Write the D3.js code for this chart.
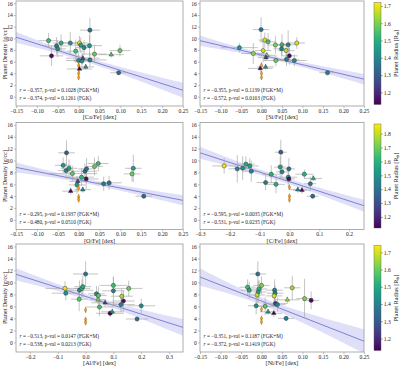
<!DOCTYPE html>
<html><head><meta charset="utf-8">
<script src="https://cdn.jsdelivr.net/npm/d3@7"></script>
<style>
body{margin:0;background:#fff}
svg{display:block}
text{font-family:"Liberation Serif","Times New Roman",serif;fill:#222}
</style>
</head><body><svg id="c" width="400" height="367"></svg>
<script>
// ---- data: [x, xErr, density, densityErr, radius, marker] ----
const caPts = [
[0.027,0.024,11.4,2.1,1.35,'o'],[-0.072,0.024,9.6,1.3,1.53,'o'],[-0.065,0.028,7.0,1.7,1.15,'o'],
[-0.053,0.03,8.7,1.5,1.38,'o'],[-0.05,0.02,8.2,1.4,1.40,'o'],[-0.042,0.02,9.2,1.5,1.50,'o'],
[-0.02,0.018,9.2,1.9,1.43,'o'],[-0.007,0.02,7.8,2.0,1.55,'o'],[0.002,0.02,9.2,1.2,1.70,'o'],
[0.005,0.025,8.85,1.3,1.47,'o'],[0.013,0.02,8.4,1.3,1.40,'o'],[0.026,0.03,8.75,1.8,1.45,'o'],
[0.038,0.03,7.3,1.5,1.58,'o'],[0.078,0.03,7.2,0.5,1.55,'t'],[0.099,0.025,7.9,1.0,1.58,'o'],
[0.096,0.02,4.1,0.4,1.33,'o'],[0.0,0.03,6.2,1.4,1.42,'o'],[0.008,0.02,6.1,1.5,1.42,'o'],
[0.01,0.04,6.6,0.6,1.25,'t'],[0.027,0.04,6.3,1.2,1.38,'o'],[0.017,0.02,5.1,0.5,1.45,'t'],
[0.002,0.03,4.75,0.6,1.13,'t'],[0,0,5.4,0.4,null,'d'],[0,0,4.0,0.3,null,'d'],[0,0,3.3,0.3,null,'d']
];
const siPts = [
[-0.001,0.02,11.5,2.1,1.35,'o'],[0.008,0.015,9.7,1.3,1.68,'o'],[0.016,0.02,9.4,1.5,1.55,'o'],
[-0.054,0.045,8.4,0.8,1.45,'o'],[-0.02,0.03,7.4,1.8,1.62,'o'],[0.004,0.02,7.9,2.0,1.68,'o'],
[0.034,0.02,8.85,1.5,1.60,'o'],[0.05,0.015,8.9,1.8,1.52,'o'],[0.049,0.02,8.2,1.3,1.38,'o'],
[0.065,0.02,8.9,2.5,1.38,'o'],[0.06,0.02,7.9,1.2,1.66,'o'],[0.086,0.02,9.2,1.0,1.68,'o'],
[0.068,0.02,7.0,1.5,1.15,'o'],[0.013,0.02,7.1,0.5,1.60,'t'],[0.035,0.03,6.2,1.0,1.58,'o'],
[0.061,0.03,6.4,1.2,1.38,'o'],[0.08,0.03,6.2,1.0,1.42,'o'],[0.011,0.02,6.7,0.6,1.25,'t'],
[0.01,0.02,5.1,0.5,1.45,'t'],[-0.003,0.03,4.85,0.6,1.13,'t'],[0.161,0.02,4.1,0.4,1.38,'o'],
[0,0,5.4,0.4,null,'d'],[0,0,4.0,0.3,null,'d'],[0,0,3.3,0.3,null,'d']
];
const oPts = [
[-0.029,0.02,11.3,2.1,1.35,'o'],[-0.037,0.02,9.2,1.3,1.52,'o'],[-0.03,0.02,8.3,1.4,1.45,'o'],
[-0.023,0.02,8.7,1.5,1.55,'o'],[-0.015,0.06,7.8,1.3,1.68,'o'],[0.015,0.03,8.2,1.3,1.40,'o'],
[0.019,0.02,8.6,1.8,1.40,'o'],[0.038,0.02,9.0,1.5,1.70,'o'],[0.047,0.025,9.5,1.3,1.62,'o'],
[0.131,0.02,8.7,2.3,1.55,'o'],[0.128,0.02,7.75,1.3,1.70,'o'],[0.007,0.03,7.2,1.5,1.62,'o'],
[0.018,0.03,6.9,1.7,1.15,'o'],[-0.002,0.02,6.5,0.6,1.25,'t'],[-0.004,0.02,5.9,1.5,1.55,'o'],
[0.01,0.02,5.1,0.5,1.45,'t'],[-0.019,0.02,4.85,0.6,1.13,'t'],[0.06,0.02,6.1,1.2,1.42,'o'],
[0.073,0.03,6.25,1.2,1.40,'o'],[0.156,0.02,4.0,0.4,1.38,'o'],
[0,0,5.4,0.4,null,'d'],[0,0,3.9,0.3,null,'d'],[0,0,3.4,0.3,null,'d']
];
const cPts = [
[-0.219,0.04,9.1,1.3,1.85,'o'],[-0.175,0.03,8.6,2.3,1.45,'o'],[-0.157,0.03,8.7,2.0,1.50,'o'],
[-0.146,0.03,9.4,1.3,1.58,'o'],[-0.133,0.03,9.1,1.3,1.55,'o'],[-0.128,0.03,8.2,1.8,1.45,'o'],
[-0.08,0.03,6.3,1.3,1.42,'o'],[-0.061,0.03,7.7,1.5,1.60,'o'],[-0.045,0.03,6.0,1.5,1.58,'o'],
[-0.029,0.02,11.4,2.1,1.35,'o'],[-0.031,0.02,8.9,1.8,1.55,'o'],[-0.025,0.02,8.1,1.3,1.45,'o'],
[-0.002,0.02,8.6,1.8,1.40,'o'],[-0.004,0.03,7.2,1.5,1.55,'o'],[-0.002,0.02,6.9,0.6,1.15,'o'],
[0.028,0.03,5.1,0.5,1.45,'t'],[0.042,0.03,5.0,0.6,1.13,'t'],[0.05,0.03,7.7,0.8,1.60,'o'],
[0.08,0.03,7.0,0.5,1.58,'t'],[0.07,0.02,6.1,1.2,1.42,'o'],[0.078,0.02,4.0,0.4,1.38,'o'],
[0,0,5.5,0.4,null,'d'],[0,0,4.0,0.3,null,'d'],[0,0,3.4,0.3,null,'d']
];
const alPts = [
[-0.074,0.07,9.0,1.2,1.72,'o'],[-0.071,0.05,8.2,1.2,1.45,'o'],[-0.022,0.05,8.7,1.6,1.42,'o'],
[-0.013,0.03,9.0,1.5,1.55,'o'],[-0.01,0.03,9.3,1.8,1.50,'o'],[-0.023,0.03,7.2,2.0,1.58,'o'],
[0.0,0.045,11.4,2.1,1.35,'o'],[0.039,0.03,8.1,1.3,1.40,'o'],[0.046,0.03,7.8,1.5,1.58,'o'],
[0.045,0.03,7.1,0.5,1.62,'t'],[0.05,0.05,5.9,1.5,1.55,'o'],[0.07,0.05,6.6,0.6,1.25,'t'],
[0.088,0.05,4.85,0.6,1.13,'o'],[0.096,0.04,5.1,0.5,1.45,'t'],[0.1,0.05,9.5,1.5,1.55,'o'],
[0.1,0.04,8.6,2.3,1.40,'o'],[0.13,0.04,7.7,1.3,1.66,'o'],[0.136,0.04,6.9,1.7,1.15,'o'],
[0.155,0.05,9.0,1.3,1.60,'o'],[0.127,0.05,6.3,1.2,1.38,'o'],[0.2,0.05,6.1,1.2,1.42,'o'],
[0.185,0.04,3.9,0.4,1.35,'o'],
[0,0,5.4,0.4,null,'d'],[0,0,3.8,0.3,null,'d'],[0,0,3.3,0.3,null,'d']
];
const niPts = [
[-0.009,0.02,11.4,2.1,1.35,'o'],[-0.034,0.02,9.2,1.3,1.55,'o'],[-0.03,0.02,8.7,1.4,1.50,'o'],
[0.0,0.02,9.5,1.5,1.62,'o'],[-0.006,0.02,8.9,1.5,1.52,'o'],[-0.008,0.02,8.4,1.8,1.48,'o'],
[-0.011,0.02,7.9,1.4,1.68,'o'],[-0.013,0.02,6.1,1.4,1.42,'o'],[0.009,0.025,6.0,1.5,1.58,'o'],
[0.016,0.02,5.1,0.5,1.45,'t'],[0.03,0.02,4.85,0.6,1.13,'t'],[0.032,0.02,8.7,1.8,1.40,'o'],
[0.033,0.02,8.2,1.3,1.40,'o'],[0.031,0.02,7.75,1.3,1.70,'o'],[0.034,0.03,6.5,0.6,1.25,'o'],
[0.039,0.02,6.3,1.2,1.40,'o'],[0.063,0.03,7.1,0.5,1.65,'t'],[0.075,0.02,9.1,2.0,1.65,'o'],
[0.06,0.02,4.0,0.4,1.38,'o'],[0.105,0.02,7.3,3.3,1.62,'o'],[0.121,0.02,7.0,1.5,1.15,'o'],
[0,0,5.5,0.4,null,'d'],[0,0,4.0,0.3,null,'d'],[0,0,3.4,0.3,null,'d']
];

// regression line (value at left & right edge) and confidence band half-widths
const fitLeft  = [10.2, 9.6, 8.85, 11.3, 11.35, 10.9];
const fitRight = [1.1, 3.0, 3.3, 2.4, 2.5, 0.2];
const bandLeft = [0.95, 0.9, 0.85, 1.0, 1.0, 1.45];
const bandMidX = [0.02, 0.02, 0.02, -0.05, 0.05, 0.02];
const bandMid  = [0.4, 0.35, 0.35, 0.4, 0.45, 0.6];
const bandRight= [1.3, 0.9, 0.85, 1.0, 1.4, 2.0];

const rText = [["−0.357","−0.374"],["−0.355","−0.572"],["−0.295","−0.480"],["−0.595","−0.531"],["−0.513","−0.538"],["−0.351","−0.372"]];
const pText = [["0.1028","0.1261"],["0.1139","0.0163"],["0.1937","0.0510"],["0.0035","0.0235"],["0.0147","0.0213"],["0.1187","0.1419"]];

const xLabels = ["[Ca/Fe] [dex]","[Si/Fe] [dex]","[O/Fe] [dex]","[C/Fe] [dex]","[Al/Fe] [dex]","[Ni/Fe] [dex]"];
const xTicksA = [-0.15,-0.10,-0.05,0,0.05,0.10,0.15,0.20,0.25];
const xTicksC = [-0.3,-0.2,-0.1,0,0.1,0.2];
const xTicksAl = [-0.2,-0.1,0,0.1,0.2,0.3];
const yTicks = [0,2,4,6,8,10,12,14,16];
const cbMin = [1.13,1.12,1.13];
const cbMax = [1.72,1.87,1.74];
const cbTicks = [[1.2,1.3,1.4,1.5,1.6,1.7],[1.2,1.3,1.4,1.5,1.6,1.7,1.8],[1.2,1.3,1.4,1.5,1.6,1.7]];

// ---- layout ----
const colX = [[16,183],[200,364]];
const rowY = [[1,106],[122.5,229.5],[244,352]];
const panels = [
 {pts:caPts, dom:[-0.15,0.25], ticks:xTicksA, fmt:".2f"},
 {pts:siPts, dom:[-0.15,0.25], ticks:xTicksA, fmt:".2f"},
 {pts:oPts,  dom:[-0.15,0.25], ticks:xTicksA, fmt:".2f"},
 {pts:cPts,  dom:[-0.3,0.25],  ticks:xTicksC, fmt:".1f"},
 {pts:alPts, dom:[-0.25,0.35], ticks:xTicksAl, fmt:".1f"},
 {pts:niPts, dom:[-0.15,0.25], ticks:xTicksA, fmt:".2f"}
];
const svg = d3.select("#c");
const defs = svg.append("defs");
const spineCol = "#9a9a9a";

panels.forEach((p,i)=>{
  const row = Math.floor(i/2), col = i%2;
  const [x0,x1] = colX[col], [y0,y1] = rowY[row];
  const x = d3.scaleLinear().domain(p.dom).range([x0,x1]);
  const y = d3.scaleLinear().domain([-1.6,16.4]).range([y1,y0]);
  const color = d3.scaleSequential(d3.interpolateViridis).domain([cbMin[row],cbMax[row]]);
  const g = svg.append("g");
  defs.append("clipPath").attr("id","cl"+i).append("rect").attr("x",x0).attr("y",y0).attr("width",x1-x0).attr("height",y1-y0);
  const pg = g.append("g").attr("clip-path","url(#cl"+i+")");

  // band
  const lineY = xv => fitLeft[i] + (fitRight[i]-fitLeft[i])*(xv-p.dom[0])/(p.dom[1]-p.dom[0]);
  const bpts = [[p.dom[0],bandLeft[i]],[bandMidX[i],bandMid[i]],[p.dom[1],bandRight[i]]];
  const area = d3.area().curve(d3.curveNatural)
     .x(d=>x(d[0])).y0(d=>y(lineY(d[0])-d[1])).y1(d=>y(lineY(d[0])+d[1]));
  pg.append("path").attr("d",area(bpts)).attr("fill","#d9dbf6").attr("fill-opacity",0.85);
  pg.append("line").attr("x1",x(p.dom[0])).attr("x2",x(p.dom[1]))
    .attr("y1",y(fitLeft[i])).attr("y2",y(fitRight[i]))
    .attr("stroke","#7c80d8").attr("stroke-width",1);

  // error bars
  const eg = pg.append("g").attr("stroke","#a8a8a8").attr("stroke-width",0.8).attr("stroke-opacity",0.85);
  p.pts.forEach(d=>{
    if(d[1]>0) eg.append("line").attr("x1",x(d[0]-d[1])).attr("x2",x(d[0]+d[1])).attr("y1",y(d[2])).attr("y2",y(d[2]));
    eg.append("line").attr("x1",x(d[0])).attr("x2",x(d[0])).attr("y1",y(d[2]-d[3])).attr("y2",y(d[2]+d[3]))
      .attr("stroke", d[5]==='d' ? "#e8a040" : null);
  });
  // markers
  p.pts.forEach(d=>{
    const cx=x(d[0]), cy=y(d[2]);
    if(d[5]==='o'){
      pg.append("circle").attr("cx",cx).attr("cy",cy).attr("r",2.1)
        .attr("fill",color(d[4])).attr("stroke","#2a2a2a").attr("stroke-width",0.45);
    } else if(d[5]==='t'){
      pg.append("path").attr("d",d3.symbol(d3.symbolTriangle).size(9)())
        .attr("transform",`translate(${cx},${cy})`)
        .attr("fill",color(d[4])).attr("stroke","#2a2a2a").attr("stroke-width",0.4);
    } else {
      pg.append("path").attr("d",d3.symbol(d3.symbolDiamond).size(8)())
        .attr("transform",`translate(${cx},${cy}) scale(0.75,1)`)
        .attr("fill","#f0a020").attr("stroke","#9a5a00").attr("stroke-width",0.45);
    }
  });

  // spines
  g.append("rect").attr("x",x0).attr("y",y0).attr("width",x1-x0).attr("height",y1-y0)
    .attr("fill","none").attr("stroke",spineCol).attr("stroke-width",0.8);

  // axes
  const fmt = d3.format(p.fmt);
  const ax = g.append("g").attr("transform",`translate(0,${y1})`)
    .call(d3.axisBottom(x).tickValues(p.ticks).tickFormat(fmt).tickSize(2).tickPadding(0.8));
  const ay = g.append("g").attr("transform",`translate(${x0},0)`)
    .call(d3.axisLeft(y).tickValues(yTicks).tickFormat(d3.format("d")).tickSize(2).tickPadding(1.2));
  [ax,ay].forEach(a=>{
    a.select(".domain").remove();
    a.selectAll(".tick line").attr("stroke",spineCol).attr("stroke-width",0.6);
    a.selectAll(".tick text").attr("font-size",5.6).attr("fill","#222")
      .attr("font-family",'"Liberation Serif","Times New Roman",serif');
  });

  // x label
  g.append("text").attr("x",(x0+x1)/2).attr("y",y1+13.2).attr("text-anchor","middle")
    .attr("font-size",6.2).text(xLabels[i]);
  // y label (left column)
  if(col===0){
    g.append("text").attr("transform",`translate(7.2,${(y0+y1)/2}) rotate(-90)`)
      .attr("text-anchor","middle").attr("font-size",6.2).text("Planet Density [g/cc]");
  }
  // annotations
  ["(FGK+M)","(FGK)"].forEach((lab,k)=>{
    const t = g.append("text").attr("x",x0+3.5).attr("y",y1-14+k*8).attr("font-size",5.3);
    t.append("tspan").attr("font-style","italic").text("r");
    t.append("tspan").text(` = ${rText[i][k]}, p-val = ${pText[i][k]} ${lab}`);
  });
});

// colorbars
for(let row=0; row<3; row++){
  const [y0,y1] = rowY[row];
  const cx0 = 374, cw = 7;
  const gid = "grad"+row;
  const grad = defs.append("linearGradient").attr("id",gid).attr("x1",0).attr("y1",1).attr("x2",0).attr("y2",0);
  d3.range(0,1.0001,0.05).forEach(t=>grad.append("stop").attr("offset",t).attr("stop-color",d3.interpolateViridis(t)));
  svg.append("rect").attr("x",cx0).attr("y",y0+1.5).attr("width",cw).attr("height",y1-y0-3)
    .attr("fill",`url(#${gid})`).attr("stroke","#555").attr("stroke-width",0.4);
  const cs = d3.scaleLinear().domain([cbMin[row],cbMax[row]]).range([y1-1.5,y0+1.5]);
  const ca = svg.append("g").attr("transform",`translate(${cx0+cw},0)`)
    .call(d3.axisRight(cs).tickValues(cbTicks[row]).tickFormat(d3.format(".1f")).tickSize(1.8).tickPadding(1));
  ca.select(".domain").remove();
  ca.selectAll(".tick line").attr("stroke","#444").attr("stroke-width",0.5);
  ca.selectAll(".tick text").attr("font-size",5.6).attr("fill","#222")
    .attr("font-family",'"Liberation Serif","Times New Roman",serif');
  const t = svg.append("text").attr("transform",`translate(397.5,${(y0+y1)/2}) rotate(-90)`)
    .attr("text-anchor","middle").attr("font-size",6.2);
  t.append("tspan").text("Planet Radius [R");
  t.append("tspan").attr("font-size",4.2).attr("dy",1.3).text("⊕");
  t.append("tspan").attr("dy",-1.3).text("]");
}
</script></body></html>
